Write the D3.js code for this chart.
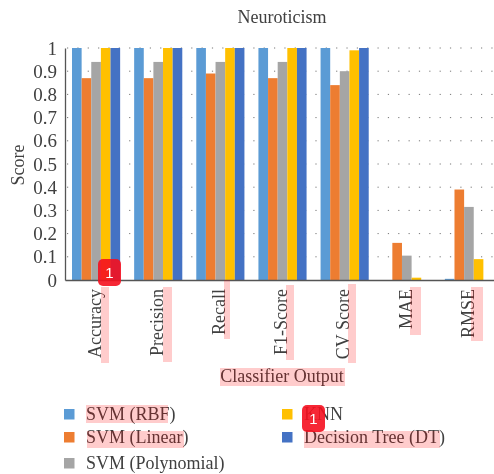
<!DOCTYPE html>
<html>
<head>
<meta charset="utf-8">
<script src="https://cdn.jsdelivr.net/npm/d3@7"></script>
<style>
    html, body { margin: 0; padding: 0; background: #fff; }
    svg { display: block; }
    text { font-family: "Liberation Serif", serif; fill: #404040; }
    .blurred { filter: blur(0.4px); }
</style>
</head>
<body>
<div id="chart"></div>
<script>
const categories = ["Accuracy", "Precision", "Recall", "F1-Score", "CV Score", "MAE", "RMSE"];
const seriesNames = ["SVM (RBF)", "SVM (Linear)", "SVM (Polynomial)", "KNN", "Decision Tree (DT)"];
const seriesColors = ["#5b9bd5", "#ed7d31", "#a5a5a5", "#ffc000", "#4472c4"];
const svmRbf = [1, 1, 1, 1, 1, 0, 0.005];
const svmLinear = [0.87, 0.87, 0.89, 0.87, 0.84, 0.16, 0.39];
const svmPoly = [0.94, 0.94, 0.94, 0.94, 0.9, 0.105, 0.315];
const knn = [1, 1, 1, 1, 0.99, 0.01, 0.09];
const decisionTree = [1, 1, 1, 1, 1, 0, 0];
const yTicks = [0, 0.1, 0.2, 0.3, 0.4, 0.5, 0.6, 0.7, 0.8, 0.9, 1];
const seriesValues = [svmRbf, svmLinear, svmPoly, knn, decisionTree];

const width = 494;
const height = 474;
const axisLeftX = 65;
const axisRightX = 500;
const baseY = 280;
const topY = 48;
const textSize = 18;

const svg = d3.select("#chart")
    .append("svg")
        .attr("width", width)
        .attr("height", height);

const chart = svg.append("g")
    .attr("class", "blurred");

const xScale = d3.scaleBand()
    .domain(categories)
    .range([axisLeftX, axisRightX]);

const groupScale = d3.scaleBand()
    .domain(seriesNames)
    .range([7, xScale.bandwidth() - 7]);

const yScale = d3.scaleLinear()
    .domain([0, 1])
    .range([baseY, topY]);

// dotted gridlines
chart.append("g")
    .selectAll("line")
    .data(yTicks.filter(d => d > 0))
    .join("line")
        .attr("x1", axisLeftX + 2)
        .attr("x2", width)
        .attr("y1", d => yScale(d))
        .attr("y2", d => yScale(d))
        .attr("stroke", "#777")
        .attr("stroke-width", 1)
        .attr("stroke-dasharray", "1.2 9.15");

// bars
const groups = chart.append("g")
    .selectAll("g")
    .data(categories)
    .join("g")
        .attr("transform", d => `translate(${xScale(d)}, 0)`);

groups.selectAll("rect")
    .data((d, i) => seriesNames.map((name, s) => ({ name, s, value: seriesValues[s][i] })))
    .join("rect")
        .attr("x", d => groupScale(d.name))
        .attr("y", d => yScale(d.value))
        .attr("width", groupScale.bandwidth())
        .attr("height", d => baseY - yScale(d.value))
        .attr("fill", d => seriesColors[d.s]);

// axes
const yAxis = d3.axisLeft(yScale)
    .tickValues(yTicks)
    .tickFormat(d => d)
    .tickSize(0)
    .tickPadding(8);

const yAxisGroup = chart.append("g")
    .attr("transform", `translate(${axisLeftX}, 0)`)
    .call(yAxis);
yAxisGroup.select(".domain").attr("stroke", "#555").attr("stroke-width", 1.3);
yAxisGroup.selectAll("text")
    .style("font-family", '"Liberation Serif", serif')
    .style("font-size", "19px")
    .attr("fill", "#404040");

const xAxis = d3.axisBottom(xScale)
    .tickSize(0);

const xAxisGroup = chart.append("g")
    .attr("transform", `translate(0, ${baseY})`)
    .call(xAxis);
xAxisGroup.select(".domain").attr("stroke", "#555").attr("stroke-width", 1.3);
xAxisGroup.selectAll("text")
    .style("font-family", '"Liberation Serif", serif')
    .style("font-size", `${textSize}px`)
    .attr("fill", "#404040")
    .attr("text-anchor", "end")
    .attr("dy", "0.35em")
    .attr("y", 0)
    .attr("transform", "translate(-1.5, 9) rotate(-90)");

// titles
chart.append("text")
    .text("Neuroticism")
    .attr("x", 282)
    .attr("y", 23)
    .attr("text-anchor", "middle")
    .style("font-size", `${textSize}px`);

chart.append("text")
    .text("Score")
    .attr("transform", "translate(24, 165) rotate(-90)")
    .attr("text-anchor", "middle")
    .style("font-size", `${textSize}px`);

chart.append("text")
    .text("Classifier Output")
    .attr("x", 282)
    .attr("y", 382)
    .attr("text-anchor", "middle")
    .style("font-size", `${textSize}px`);

// legend
const legendRows = [23, 26];
const legendItems = chart.append("g")
    .selectAll("g")
    .data(seriesNames)
    .join("g")
        .attr("transform", (d, i) => {
            const col = i < 3 ? 0 : 1;
            const row = i < 3 ? i : i - 3;
            const rowY = 414 + d3.sum(legendRows.slice(0, row));
            return `translate(${col === 0 ? 64 : 282}, ${rowY})`;
        });

legendItems.append("rect")
    .attr("y", -5)
    .attr("width", 10.5)
    .attr("height", 10.5)
    .attr("fill", (d, i) => seriesColors[i]);

legendItems.append("text")
    .text(d => d)
    .attr("x", 22)
    .attr("y", 5.5)
    .style("font-size", `${textSize}px`);

// pink text highlights and red badges sitting on the picture
const highlights = [
    [101, 287, 8, 76], [163, 287, 9, 75], [224, 280, 6, 59], [286, 285, 8, 75],
    [348, 284, 8, 79], [410, 287, 11, 48], [471, 287, 12, 54],
    [220, 368, 125, 18], [86, 405, 82, 18], [87, 431, 97, 17], [304, 431, 136, 17]
];
const badges = [[98, 259], [302, 405]];

svg.append("g")
    .selectAll("rect")
    .data(highlights)
    .join("rect")
        .attr("x", d => d[0])
        .attr("y", d => d[1])
        .attr("width", d => d[2])
        .attr("height", d => d[3])
        .attr("fill", "#ff0000")
        .attr("fill-opacity", 0.2);

const badge = svg.append("g")
    .selectAll("g")
    .data(badges)
    .join("g")
        .attr("transform", d => `translate(${d[0]}, ${d[1]})`);

badge.append("rect")
    .attr("width", 23)
    .attr("height", 27)
    .attr("rx", 5)
    .attr("fill", "#f5101f")
    .attr("fill-opacity", 0.9);

badge.append("text")
    .text("1")
    .attr("x", 11.5)
    .attr("y", 19)
    .attr("text-anchor", "middle")
    .style("font-family", '"Liberation Sans", sans-serif')
    .style("font-size", "15px")
    .style("fill", "#fff");
</script>
</body>
</html>
